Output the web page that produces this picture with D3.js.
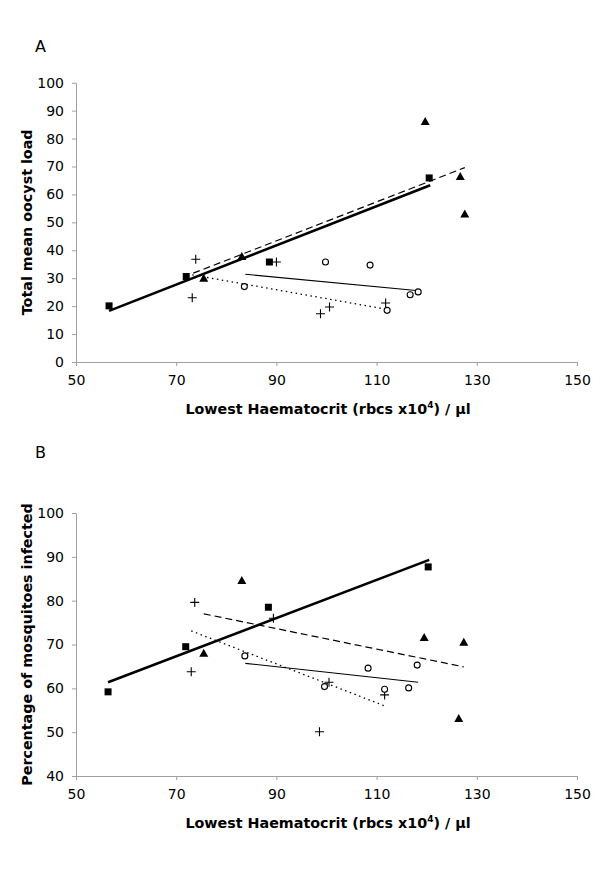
<!DOCTYPE html>
<html><head><meta charset="utf-8">
<script src="https://cdn.jsdelivr.net/npm/d3@7"></script>
<style>body{margin:0;background:#fff}svg{display:block}text{font-family:"DejaVu Sans",Verdana,sans-serif;fill:#000}</style>
</head><body><svg id="c" width="600" height="869"></svg>
<script>
// Panel A: total mean oocyst load
const aSquares = [[56.6,20.1],[72.0,30.6],[88.6,35.8],[120.5,65.9]];
const aTriangles = [[75.5,30.0],[83.1,37.8],[119.7,86.1],[126.7,66.4],[127.6,53.0]];
const aPlus = [[73.9,36.8],[73.2,23.0],[90.0,35.8],[100.6,19.7],[98.8,17.3],[111.8,21.1]];
const aCircles = [[83.6,27.0],[99.8,35.8],[108.7,34.7],[112.1,18.5],[116.7,24.1],[118.3,25.1]];
// trend lines [x1,y1,x2,y2]
const aTrendSquares = [56.6,18.3,120.7,63.3];
const aTrendTriangles = [73.4,31.8,127.6,69.6];
const aTrendPlus = [73.2,31.2,111.9,18.9];
const aTrendCircles = [83.8,31.4,117.9,25.6];

// Panel B: percentage of mosquitoes infected
const bSquares = [[56.4,59.2],[71.9,69.5],[88.4,78.5],[120.3,87.7]];
const bTriangles = [[75.5,68.0],[83.1,84.6],[119.5,71.6],[127.4,70.5],[126.4,53.1]];
const bPlus = [[73.7,79.6],[73.0,63.8],[89.4,76.0],[100.5,61.4],[98.6,50.1],[111.6,58.5]];
const bCircles = [[83.7,67.4],[99.6,60.4],[108.3,64.6],[111.6,59.8],[116.4,60.1],[118.1,65.3]];
const bTrendSquares = [56.4,61.4,120.5,89.3];
const bTrendTriangles = [75.5,77.0,127.4,64.9];
const bTrendPlus = [73.0,73.1,111.6,56.0];
const bTrendCircles = [83.8,65.7,118.3,61.4];

const xTicks = [50,70,90,110,130,150];
const aYTicks = [0,10,20,30,40,50,60,70,80,90,100];
const bYTicks = [40,50,60,70,80,90,100];

const svg = d3.select("#c");
const axisColor = "#a0a0a0";

function panel(cfg){
  const g = svg.append("g");
  const x = d3.scaleLinear().domain([50,150]).range([76,577]);
  const y = d3.scaleLinear().domain(cfg.yDomain).range(cfg.yRange);
  const xa = g.append("g").attr("transform",`translate(0,${cfg.yRange[0]})`)
    .call(d3.axisBottom(x).tickValues(xTicks).tickSize(4).tickPadding(9).tickSizeOuter(0));
  const ya = g.append("g").attr("transform",`translate(76,0)`)
    .call(d3.axisLeft(y).tickValues(cfg.yTicks).tickSize(4).tickPadding(8).tickSizeOuter(0));
  [xa,ya].forEach(a=>{
    a.select(".domain").attr("stroke",axisColor);
    a.selectAll(".tick line").attr("stroke",axisColor);
    a.selectAll(".tick text").attr("font-size",14).attr("font-family","DejaVu Sans, Verdana, sans-serif").attr("fill","#000");
  });
  // panel letter
  g.append("text").attr("x",35).attr("y",cfg.letterY).attr("font-size",16).text(cfg.letter);
  // x title
  const xt = g.append("text").attr("x",328).attr("y",cfg.yRange[0]+52).attr("text-anchor","middle")
    .attr("font-size",14.3).attr("font-weight","bold");
  xt.append("tspan").text("Lowest Haematocrit (rbcs x10");
  xt.append("tspan").attr("dy",-6).attr("font-size",9).text("4");
  xt.append("tspan").attr("dy",6).text(") / µl");
  // y title
  const yc = (cfg.yRange[0]+cfg.yRange[1])/2;
  g.append("text").attr("transform",`translate(32,${yc}) rotate(-90)`).attr("text-anchor","middle")
    .attr("font-size",14.3).attr("font-weight","bold").text(cfg.yTitle);

  // trend lines
  const tl = (t,w,dash)=>g.append("line").attr("x1",x(t[0])).attr("y1",y(t[1])).attr("x2",x(t[2])).attr("y2",y(t[3]))
    .attr("stroke","#000").attr("stroke-width",w).attr("stroke-dasharray",dash);
  tl(cfg.trends[0],2.6,null);
  tl(cfg.trends[1],1.2,"7,4");
  tl(cfg.trends[2],1.3,"1.5,3.5");
  tl(cfg.trends[3],1.1,null);

  // markers
  g.selectAll(null).data(cfg.squares).join("rect")
    .attr("x",d=>x(d[0])-3.5).attr("y",d=>y(d[1])-3.5).attr("width",7).attr("height",7).attr("fill","#000");
  g.selectAll(null).data(cfg.triangles).join("path")
    .attr("d",d=>{const cx=x(d[0]),cy=y(d[1]);return `M${cx},${cy-4.5}L${cx+4.5},${cy+3.5}L${cx-4.5},${cy+3.5}Z`;}).attr("fill","#000");
  g.selectAll(null).data(cfg.plus).join("path")
    .attr("d",d=>{const cx=x(d[0]),cy=y(d[1]);return `M${cx-4.5},${cy}H${cx+4.5}M${cx},${cy-4.5}V${cy+4.5}`;})
    .attr("stroke","#000").attr("stroke-width",1.1).attr("fill","none");
  g.selectAll(null).data(cfg.circles).join("circle")
    .attr("cx",d=>x(d[0])).attr("cy",d=>y(d[1])).attr("r",3).attr("fill","#fff").attr("stroke","#000").attr("stroke-width",1.1);
}

panel({letter:"A",letterY:52,yDomain:[0,100],yRange:[362,82.7],yTicks:aYTicks,yTitle:"Total mean oocyst load",
  squares:aSquares,triangles:aTriangles,plus:aPlus,circles:aCircles,
  trends:[aTrendSquares,aTrendTriangles,aTrendPlus,aTrendCircles]});
panel({letter:"B",letterY:458,yDomain:[40,100],yRange:[776,513],yTicks:bYTicks,yTitle:"Percentage of mosquitoes infected",
  squares:bSquares,triangles:bTriangles,plus:bPlus,circles:bCircles,
  trends:[bTrendSquares,bTrendTriangles,bTrendPlus,bTrendCircles]});
</script></body></html>
